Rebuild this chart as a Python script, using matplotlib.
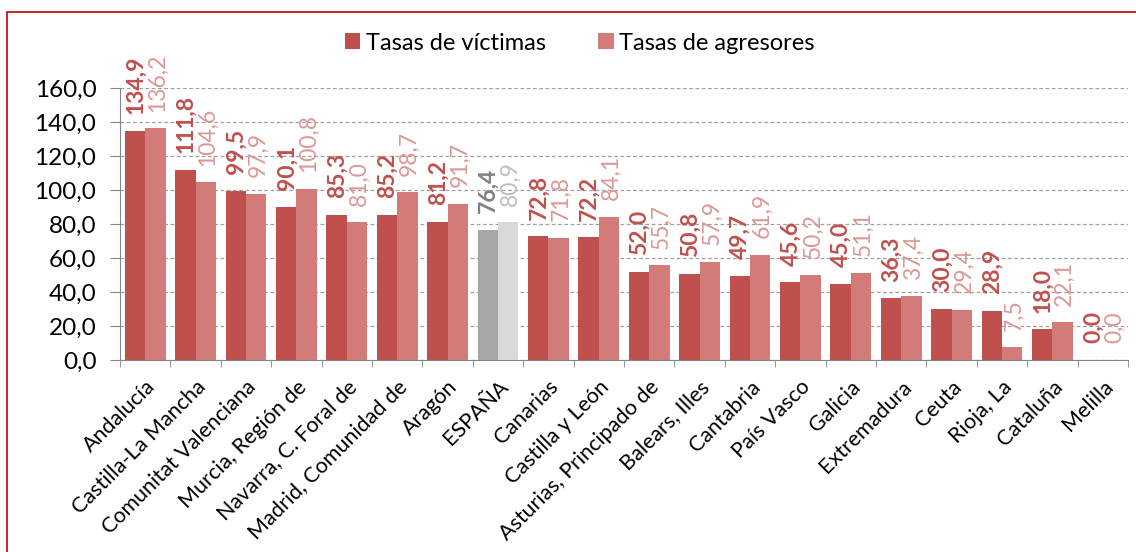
import matplotlib
matplotlib.use("Agg")
import matplotlib.pyplot as plt
import numpy as np
from matplotlib.patches import Rectangle

categories = ["Andalucía", "Castilla-La Mancha", "Comunitat Valenciana", "Murcia, Región de",
              "Navarra, C. Foral de", "Madrid, Comunidad de", "Aragón", "ESPAÑA", "Canarias",
              "Castilla y León", "Asturias, Principado de", "Balears, Illes", "Cantabria",
              "País Vasco", "Galicia", "Extremadura", "Ceuta", "Rioja, La", "Cataluña", "Melilla"]
victimas = [134.9, 111.8, 99.5, 90.1, 85.3, 85.2, 81.2, 76.4, 72.8, 72.2, 52.0, 50.8, 49.7,
            45.6, 45.0, 36.3, 30.0, 28.9, 18.0, 0.0]
agresores = [136.2, 104.6, 97.9, 100.8, 81.0, 98.7, 91.7, 80.9, 71.8, 84.1, 55.7, 57.9, 61.9,
             50.2, 51.1, 37.4, 29.4, 7.5, 22.1, 0.0]
yticks = [0, 20, 40, 60, 80, 100, 120, 140, 160]

plt.rcParams['font.family'] = ['Lato', 'DejaVu Sans']

C_V = "#C0504D"
C_A = "#D27B79"
C_VL = "#C0504D"
C_AL = "#DC9896"
C_EV = "#A6A6A6"
C_EA = "#D9D9D9"
C_EVL = "#808080"
C_EAL = "#BFBFBF"

fig = plt.figure(figsize=(11.36, 5.52), dpi=100)
ax = fig.add_axes([120/1136, 1-360/552, (1128-120)/1136, (360-88)/552])

x = np.arange(len(categories))
w = 0.405
cv = [C_EV if c == "ESPAÑA" else C_V for c in categories]
ca = [C_EA if c == "ESPAÑA" else C_A for c in categories]
ax.bar(x - w/2, victimas, w, color=cv, label="Tasas de víctimas", zorder=3)
ax.bar(x + w/2, agresores, w, color=ca, label="Tasas de agresores", zorder=3)

fmt = lambda v: f"{v:.1f}".replace(".", ",")
for i, c in enumerate(categories):
    esp = c == "ESPAÑA"
    ax.annotate(fmt(victimas[i]), (x[i] - w/2, victimas[i]), xytext=(0.5, 12),
                textcoords="offset points", rotation=90, ha="center", va="bottom",
                fontsize=16.5, fontweight="bold", color=C_EVL if esp else C_VL, zorder=4)
    ax.annotate(fmt(agresores[i]), (x[i] + w/2, agresores[i]), xytext=(1.5, 12),
                textcoords="offset points", rotation=90, ha="center", va="bottom",
                fontsize=16.5, color=C_EAL if esp else C_AL, zorder=4)

ax.set_xlim(-0.5, len(categories) - 0.5)
ax.set_ylim(0, 160)
ax.set_yticks(yticks)
ax.set_yticklabels([fmt(v) for v in yticks], fontsize=17.5, color="#000000")
ax.set_xticks(x)
ax.set_xticklabels(categories, rotation=45, ha="right", rotation_mode="anchor", fontsize=15.5)
ax.set_xticks(np.arange(-0.5, len(categories), 1), minor=True)
ax.tick_params(axis="x", which="major", length=0, pad=12)
ax.tick_params(axis="x", which="minor", length=5, color="#868686", direction="out")
ax.tick_params(axis="y", length=7, color="#868686", pad=10)
ax.yaxis.grid(True, linestyle=(0, (3, 2)), color="#A0A0A0", linewidth=0.9, zorder=0)
for s in ["top", "right"]:
    ax.spines[s].set_visible(False)
ax.spines["left"].set_color("#868686")
ax.spines["bottom"].set_color("#868686")

fig.legend(loc="center", bbox_to_anchor=(580/1136, 1-43/552), ncol=2, frameon=False,
           fontsize=17, handlelength=0.65, handleheight=0.65, handletextpad=0.25, columnspacing=2.2)

fig.patches.append(Rectangle((7/1136, -0.05), 1.1, 1 - 12/552 + 0.05, transform=fig.transFigure,
                             fill=False, edgecolor="#C00000", linewidth=1.2))

fig.savefig("out.png", dpi=100)
